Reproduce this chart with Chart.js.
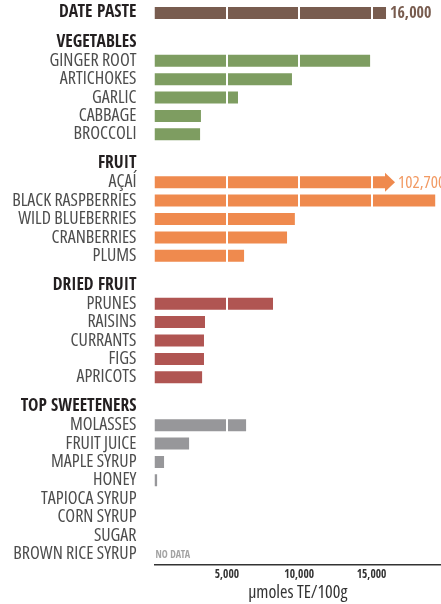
<!DOCTYPE html>
<html>
<head>
<meta charset="utf-8">
<script src="https://cdn.jsdelivr.net/npm/chart.js@4/dist/chart.umd.min.js"></script>
<style>
html,body{margin:0;padding:0;background:#fff;}
#wrap{width:441px;height:604px;position:relative;}
</style>
</head>
<body>
<div id="wrap"><canvas id="c"></canvas></div>
<script>
// ---- data ----
const groupNames = ['DATE PASTE', 'VEGETABLES', 'FRUIT', 'DRIED FRUIT', 'TOP SWEETENERS'];
const datePasteValue = 16000;
const vegetables = ['GINGER ROOT', 'ARTICHOKES', 'GARLIC', 'CABBAGE', 'BROCCOLI'];
const vegetableValues = [14900, 9500, 5770, 3210, 3150];
const fruit = ['AÇAÍ', 'BLACK RASPBERRIES', 'WILD BLUEBERRIES', 'CRANBERRIES', 'PLUMS'];
const fruitValues = [102700, 19400, 9700, 9160, 6190];
const driedFruit = ['PRUNES', 'RAISINS', 'CURRANTS', 'FIGS', 'APRICOTS'];
const driedFruitValues = [8190, 3490, 3420, 3420, 3290];
const sweeteners = ['MOLASSES', 'FRUIT JUICE', 'MAPLE SYRUP', 'HONEY', 'TAPIOCA SYRUP', 'CORN SYRUP', 'SUGAR', 'BROWN RICE SYRUP'];
const sweetenerValues = [6330, 2390, 660, 180, 0, 0, 0, null];
const xTicks = [5000, 10000, 15000];
const axisTitle = 'µmoles TE/100g';
const noDataText = 'NO DATA';
const axisMax = 19800;
const breakValue = 16000;   // bars beyond the axis are cut here with an arrow

// ---- styles ----
const groupColors = ['#785c4f', '#7e9d61', '#ef8a4e', '#b05552', '#97979a'];
const BOLD_FONT = "'Open Sans Condensed', 'DejaVu Sans Condensed', sans-serif";
const FONT = "'Open Sans', 'DejaVu Sans Condensed', sans-serif";
const COND = 'condensed';
const GROUP_GAP = 0.6;

// ---- build rows ----
const rows = [];
let pos = 0;
rows.push({label: groupNames[0], value: datePasteValue, header: true, color: groupColors[0], pos: pos});
const groupItems = [[vegetables, vegetableValues], [fruit, fruitValues], [driedFruit, driedFruitValues], [sweeteners, sweetenerValues]];
groupItems.forEach(([names, vals], gi) => {
  pos += 1 + GROUP_GAP;
  rows.push({label: groupNames[gi + 1], value: undefined, header: true, color: groupColors[gi + 1], pos: pos});
  names.forEach((n, i) => {
    pos += 1;
    rows.push({label: n, value: vals[i], header: false, color: groupColors[gi + 1], pos: pos});
  });
});
const barRows = rows.filter(r => r.value !== undefined && r.value !== null);

const annot = {
  id: 'annot',
  afterDatasetsDraw(chart) {
    const {ctx, scales: {x, y}} = chart;
    ctx.save();
    ctx.textBaseline = 'middle';
    ctx.textAlign = 'left';
    barRows.forEach(r => {
      const yc = y.getPixelForValue(r.pos);
      if (r.value > axisMax) {
        const x0 = x.getPixelForValue(breakValue);
        ctx.fillStyle = r.color;
        ctx.beginPath();
        ctx.moveTo(x0 - 1, yc - 9.5);
        ctx.lineTo(x0 + 9, yc);
        ctx.lineTo(x0 - 1, yc + 9.5);
        ctx.closePath();
        ctx.fill();
        ctx.fillStyle = '#f29a63';
        ctx.font = COND + ' 17px ' + FONT;
        ctx.fillText(r.value.toLocaleString('en-US'), x0 + 12, yc + 1);
      } else if (r.header) {
        ctx.fillStyle = r.color;
        ctx.font = 'bold 16px ' + BOLD_FONT;
        ctx.fillText(r.value.toLocaleString('en-US'), x.getPixelForValue(r.value) + 4, yc + 1);
      }
    });
    rows.filter(r => r.value === null).forEach(r => {
      const yc = y.getPixelForValue(r.pos);
      ctx.fillStyle = '#a3a3a3';
      ctx.font = 'bold 10px ' + BOLD_FONT;
      ctx.fillText(noDataText, x.getPixelForValue(0) + 1, yc + 1);
    });
    ctx.restore();
  }
};

new Chart(document.getElementById('c'), {
  type: 'bar',
  data: {
    datasets: [{
      data: barRows.map(r => ({x: r.value > axisMax ? breakValue : r.value, y: r.pos})),
      backgroundColor: barRows.map(r => r.color),
      barThickness: 12,
      borderWidth: 0,
      inflateAmount: 0
    }]
  },
  options: {
    indexAxis: 'y',
    responsive: true,
    maintainAspectRatio: false,
    animation: false,
    layout: {padding: 0},
    plugins: {legend: {display: false}, tooltip: {enabled: false}},
    scales: {
      x: {
        type: 'linear',
        min: 0,
        max: axisMax,
        afterBuildTicks(s) { s.ticks = xTicks.map(v => ({value: v})); },
        afterFit(s) { s.height = 39; s.paddingLeft = 0; s.paddingRight = 0; },
        grid: {color: '#ffffff', lineWidth: 2, drawTicks: false, z: 1},
        border: {display: true, color: '#333333', width: 1.5, z: 2},
        ticks: {
          padding: 3,
          color: '#333333',
          font: {family: BOLD_FONT, size: 11.5, weight: 'bold'},
          callback: v => v.toLocaleString('en-US'),
          maxRotation: 0
        },
        title: {display: true, text: axisTitle, color: '#333333', font: {family: FONT, size: 18, weight: COND}, padding: {top: 0, bottom: 0}}
      },
      y: {
        type: 'linear',
        offset: false,
        reverse: true,
        min: -0.7,
        max: 30.0,
        afterBuildTicks(s) { s.ticks = rows.map(r => ({value: r.pos})); },
        afterFit(s) { s.width = 154.5; s.paddingTop = 0; s.paddingBottom = 0; },
        grid: {display: false, drawTicks: false, offset: false},
        border: {display: false},
        ticks: {
          padding: 18,
          autoSkip: false,
          callback: (v, i) => rows[i] ? rows[i].label : '',
          color: ctx => (rows[ctx.index] && rows[ctx.index].header) ? '#231f20' : '#4d4d4d',
          font: ctx => (rows[ctx.index] && rows[ctx.index].header)
            ? {family: BOLD_FONT, size: 17.5, weight: 'bold'}
            : {family: FONT, size: 18, weight: COND}
        }
      }
    }
  },
  plugins: [annot]
});
</script>
</body>
</html>
